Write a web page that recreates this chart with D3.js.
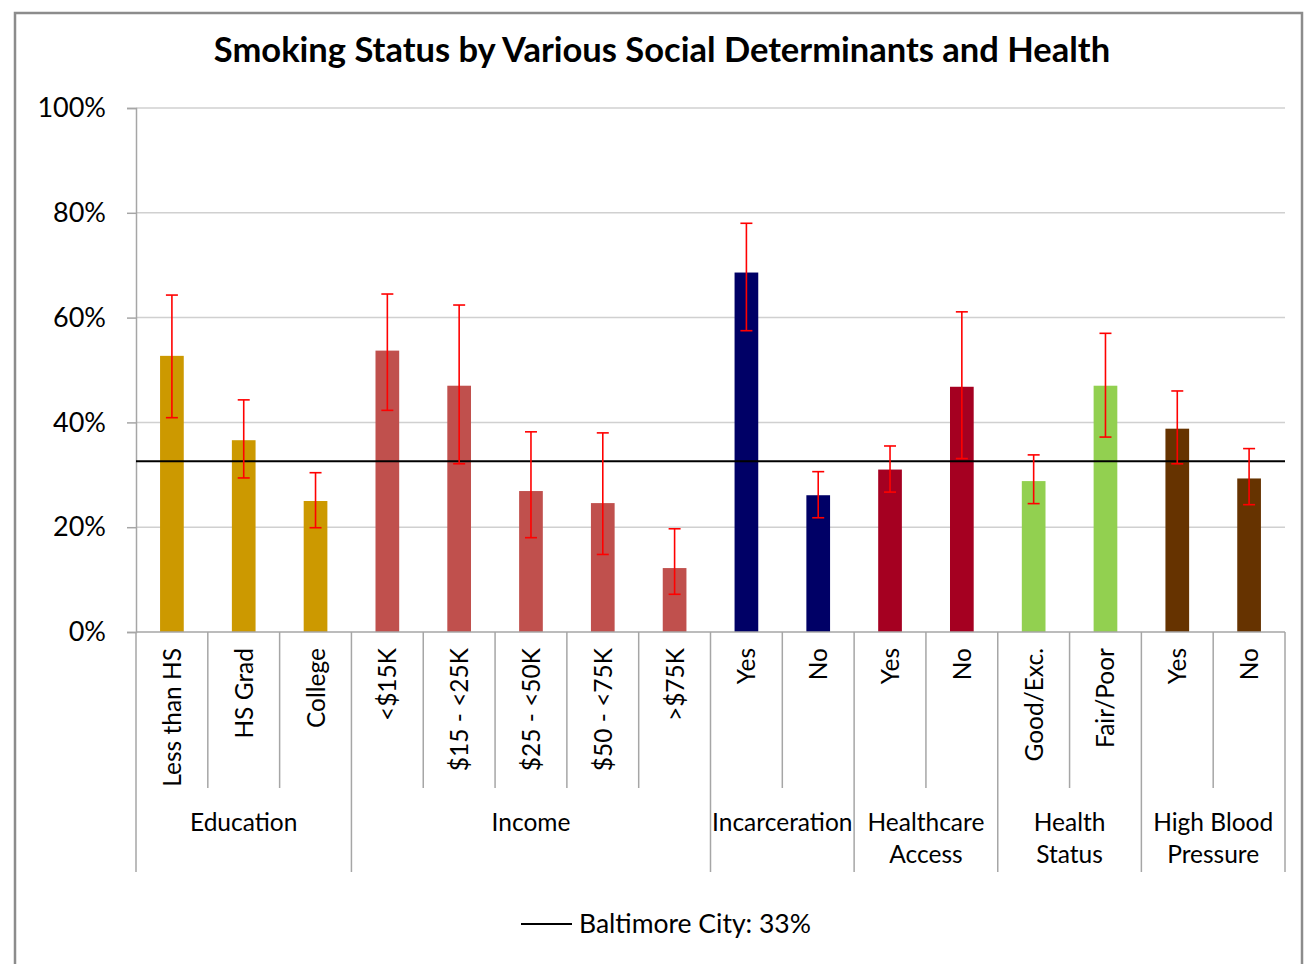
<!DOCTYPE html>
<html>
<head>
<meta charset="utf-8">
<script src="https://cdn.jsdelivr.net/npm/d3@7"></script>
<style>
  html, body { margin: 0; padding: 0; background: #fff; }
  svg { display: block; font-family: Lato, "Open Sans", sans-serif; }
</style>
</head>
<body>
<svg id="chart" width="1311" height="964"></svg>
<script>
// ---- data ----
const categories = ["Less than HS","HS Grad","College","<$15K","$15 - <25K","$25 - <50K","$50 - <75K",">$75K","Yes","No","Yes","No","Good/Exc.","Fair/Poor","Yes","No"];
const groupOf    = ["Education","Education","Education","Income","Income","Income","Income","Income","Incarceration","Incarceration","Healthcare Access","Healthcare Access","Health Status","Health Status","High Blood Pressure","High Blood Pressure"];
const values     = [0.527,0.366,0.250,0.537,0.470,0.269,0.246,0.122,0.686,0.261,0.310,0.468,0.288,0.470,0.388,0.293];
const errHigh    = [0.643,0.443,0.304,0.645,0.624,0.382,0.380,0.197,0.780,0.306,0.355,0.611,0.338,0.570,0.460,0.350];
const errLow     = [0.409,0.294,0.199,0.423,0.321,0.180,0.148,0.072,0.575,0.218,0.267,0.331,0.245,0.372,0.321,0.243];
const groups      = ["Education","Income","Incarceration","Healthcare Access","Health Status","High Blood Pressure"];
const groupLines  = [["Education"],["Income"],["Incarceration"],["Healthcare","Access"],["Health","Status"],["High Blood","Pressure"]];
const groupColors = ["#CC9900","#C0504D","#000066","#A50021","#92D050","#663300"];
const yTicks      = [0,0.2,0.4,0.6,0.8,1.0];
const baseline    = 0.326;
const baselineLabel = "Baltimore City: 33%";
const title = "Smoking Status by Various Social Determinants and Health";

// ---- layout ----
const svg = d3.select("#chart");
const L = 136, R = 1285, T = 108, B = 632;

// outer border
svg.append("rect").attr("x",15).attr("y",13).attr("width",1287).attr("height",990)
  .attr("fill","#fff").attr("stroke","#8c8c8c").attr("stroke-width",2.5);

const x = d3.scaleBand().domain(d3.range(categories.length)).range([L,R]).paddingInner(0).paddingOuter(0);
const y = d3.scaleLinear().domain([0,1]).range([B,T]);
const color = d3.scaleOrdinal().domain(groups).range(groupColors);

// title
svg.append("text").attr("x",662).attr("y",62).attr("text-anchor","middle")
  .attr("font-size",34.5).attr("font-weight","bold").attr("fill","#000").text(title);

// gridlines
svg.append("g").selectAll("line").data(yTicks.filter(d=>d>0)).join("line")
  .attr("x1",L).attr("x2",R).attr("y1",d=>y(d)).attr("y2",d=>y(d))
  .attr("stroke","#d0d0d0").attr("stroke-width",1.5);

// y axis
const yAxis = d3.axisLeft(y).tickValues(yTicks).tickFormat(d3.format(".0%")).tickSize(9).tickPadding(21);
const gy = svg.append("g").attr("transform",`translate(${L},0)`).call(yAxis);
gy.select(".domain").attr("stroke","#a6a6a6").attr("stroke-width",1.5);
gy.selectAll(".tick line").attr("stroke","#a6a6a6").attr("stroke-width",1.5);
gy.selectAll(".tick text").attr("font-size",27).attr("fill","#000").attr("font-family","Lato");

// bars
const bw = x.bandwidth()*0.33;
svg.append("g").selectAll("rect").data(values).join("rect")
  .attr("x",(d,i)=>x(i)+x.bandwidth()/2-bw/2)
  .attr("width",bw)
  .attr("y",d=>y(d))
  .attr("height",d=>B-y(d))
  .attr("fill",(d,i)=>color(groupOf[i]));

// baseline (Baltimore City)
svg.append("line").attr("x1",L).attr("x2",R).attr("y1",y(baseline)).attr("y2",y(baseline))
  .attr("stroke","#000").attr("stroke-width",2);

// error bars
const cap = 12;
const eg = svg.append("g").attr("stroke","#ff0000").attr("stroke-width",1.6);
values.forEach((v,i)=>{
  const cx = x(i)+x.bandwidth()/2;
  eg.append("line").attr("x1",cx).attr("x2",cx).attr("y1",y(errLow[i])).attr("y2",y(errHigh[i]));
  eg.append("line").attr("x1",cx-cap/2).attr("x2",cx+cap/2).attr("y1",y(errLow[i])).attr("y2",y(errLow[i]));
  eg.append("line").attr("x1",cx-cap/2).attr("x2",cx+cap/2).attr("y1",y(errHigh[i])).attr("y2",y(errHigh[i]));
});

// x axis line
svg.append("line").attr("x1",L).attr("x2",R).attr("y1",B).attr("y2",B)
  .attr("stroke","#a6a6a6").attr("stroke-width",1.5);

// category dividers
const innerBottom = 788, outerBottom = 872;
const boundaries = d3.range(categories.length+1);
svg.append("g").selectAll("line").data(boundaries).join("line")
  .attr("x1",i=> i<categories.length ? x(i) : R)
  .attr("x2",i=> i<categories.length ? x(i) : R)
  .attr("y1",B)
  .attr("y2",i=> (i===0 || i===categories.length || groupOf[i]!==groupOf[i-1]) ? outerBottom : innerBottom)
  .attr("stroke","#a6a6a6").attr("stroke-width",1.5);

// category labels
svg.append("g").selectAll("text").data(categories).join("text")
  .attr("transform",(d,i)=>`translate(${x(i)+x.bandwidth()/2+9},648) rotate(-90)`)
  .attr("text-anchor","end")
  .attr("font-size",24.5).attr("fill","#000").text(d=>d);

// group labels
groups.forEach((g,gi)=>{
  const idx = groupOf.map((d,i)=>d===g?i:-1).filter(i=>i>=0);
  const x0 = x(idx[0]), x1 = x(idx[idx.length-1])+x.bandwidth();
  const t = svg.append("text").attr("x",(x0+x1)/2).attr("y",831).attr("text-anchor","middle")
    .attr("font-size",24.5).attr("fill","#000");
  groupLines[gi].forEach((ln,k)=>{
    t.append("tspan").attr("x",(x0+x1)/2).attr("dy",k===0?0:32).text(ln);
  });
});

// legend
svg.append("line").attr("x1",521).attr("x2",572).attr("y1",924).attr("y2",924).attr("stroke","#000").attr("stroke-width",2);
svg.append("text").attr("x",579).attr("y",933).attr("font-size",26.5).attr("fill","#000").text(baselineLabel);
</script>
</body>
</html>
